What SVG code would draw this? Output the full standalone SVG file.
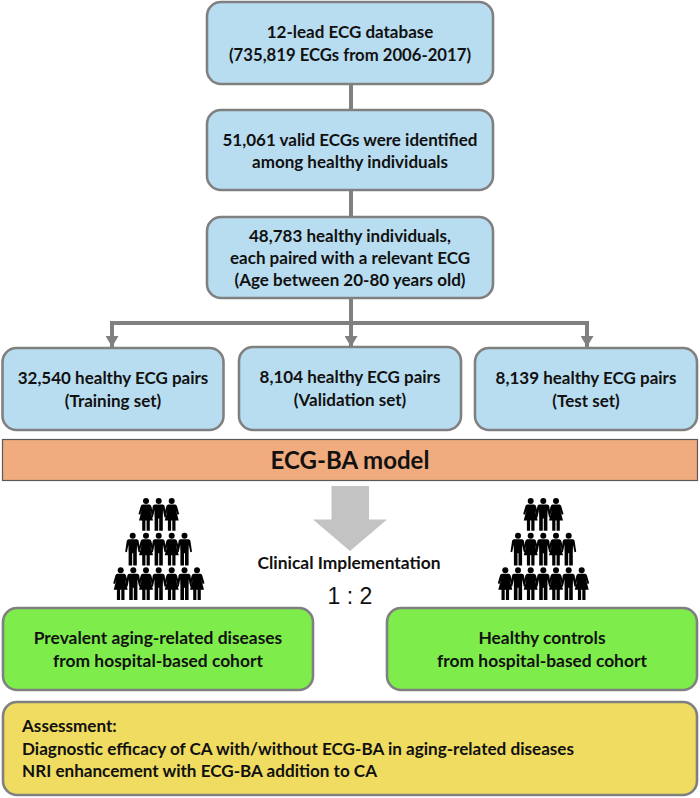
<svg xmlns="http://www.w3.org/2000/svg" xmlns:xlink="http://www.w3.org/1999/xlink" width="700" height="798" viewBox="0 0 700 798">
<style>
text{font-family:Lato,"Open Sans","Liberation Sans",sans-serif;font-weight:700;font-size:17px;fill:#111;text-anchor:middle}
.lg{font-size:17.4px}
.ye{font-size:17.1px}
.b{fill:#b9ddf0;stroke:#808080;stroke-width:2.6}
.g{fill:#7eed4c;stroke:#808080;stroke-width:2.6}
.y{fill:#f0dc60;stroke:#808080;stroke-width:2.6}
.c{fill:none;stroke:#808080;stroke-width:4}
.l{text-anchor:start}
</style>
<defs>
<marker id="ah" markerUnits="userSpaceOnUse" markerWidth="11" markerHeight="13" refX="11" refY="6.500" orient="auto"><path d="M0 0L11 6.500L0 13Z" fill="#808080"/></marker>
<g id="m"><circle cx="0" cy="0" r="3"/><path d="M-4 3.500H4Q5.500 3.500 5.900 5L7.500 16L5.800 16.500L4.300 9L4.100 16.500V29.700H0.500V17.500H-0.500V29.700H-4.100V16.500L-4.300 9L-5.800 16.500L-7.500 16L-5.900 5Q-5.500 3.500 -4 3.500Z"/></g>
<g id="w"><circle cx="0" cy="0" r="3"/><path d="M-3.400 3.500H3.400Q4.700 3.500 5.200 5L7.500 13L5.800 13.700L4.200 9L7 19.500H3.800V29.700H0.600V19.500H-0.600V29.700H-3.800V19.500H-7L-4.200 9L-5.800 13.700L-7.500 13L-5.200 5Q-4.700 3.500 -3.400 3.500Z"/></g>
</defs>
<g id="connectors">
<path class="c" d="M351 84V110M351 190V217M351 298V323"/>
<path class="c" d="M587 325V323H112V347" marker-end="url(#ah)"/>
<path class="c" d="M351 323V347" marker-end="url(#ah)"/>
<path class="c" d="M587 323V347" marker-end="url(#ah)"/>
</g>
<g id="n1"><rect class="b" x="207" y="2" width="286" height="82" rx="14"/><text x="350" y="38">12-lead ECG database</text><text x="350" y="61" style="font-size:16.7px">(735,819 ECGs from 2006-2017)</text></g>
<g id="n2"><rect class="b" x="207" y="110" width="286" height="80" rx="14"/><text x="350" y="146">51,061 valid ECGs were identified</text><text x="350" y="168">among healthy individuals</text></g>
<g id="n3"><rect class="b" x="207" y="217" width="286" height="81" rx="14"/><text x="350" y="242">48,783 healthy individuals,</text><text x="350" y="264">each paired with a relevant ECG</text><text x="350" y="286">(Age between 20-80 years old)</text></g>
<g id="n4"><rect class="b" x="2.500" y="348" width="221" height="82" rx="14"/><text x="113" y="384">32,540 healthy ECG pairs</text><text x="113" y="407">(Training set)</text></g>
<g id="n5"><rect class="b" x="239" y="347" width="222" height="83" rx="14"/><text x="350" y="383">8,104 healthy ECG pairs</text><text x="350" y="406">(Validation set)</text></g>
<g id="n6"><rect class="b" x="475" y="348" width="222" height="82" rx="14"/><text x="586" y="384">8,139 healthy ECG pairs</text><text x="586" y="407">(Test set)</text></g>
<g id="n7"><rect x="2.500" y="439.500" width="695" height="41" fill="#f0ab7e" stroke="#595959" stroke-width="1.200"/><text x="350" y="469" style="font-size:24px;font-weight:700">ECG-BA model</text></g>
<path id="bigarrow" d="M331.500 486H369V519.500H387L350 551L313 519.500H331.500Z" fill="#c3c3c3"/>
<g id="peopleL">
<use xlink:href="#w" x="146" y="501"/><use xlink:href="#m" x="158.700" y="501"/><use xlink:href="#w" x="171.700" y="501"/>
<use xlink:href="#m" x="132.700" y="535.700"/><use xlink:href="#w" x="146" y="535.700"/><use xlink:href="#m" x="158.700" y="535.700"/><use xlink:href="#w" x="171.700" y="535.700"/><use xlink:href="#m" x="184.500" y="535.700"/>
<use xlink:href="#w" x="120.700" y="570.300"/><use xlink:href="#m" x="133.300" y="570.300"/><use xlink:href="#w" x="146" y="570.300"/><use xlink:href="#m" x="158.700" y="570.300"/><use xlink:href="#w" x="171.700" y="570.300"/><use xlink:href="#m" x="184.500" y="570.300"/><use xlink:href="#w" x="197" y="570.300"/>
</g>
<g id="peopleR">
<use xlink:href="#w" x="530.700" y="501"/><use xlink:href="#m" x="543.300" y="501"/><use xlink:href="#w" x="556" y="501"/>
<use xlink:href="#m" x="518" y="535.700"/><use xlink:href="#w" x="530.700" y="535.700"/><use xlink:href="#m" x="543.300" y="535.700"/><use xlink:href="#w" x="556" y="535.700"/><use xlink:href="#m" x="568.700" y="535.700"/>
<use xlink:href="#w" x="505.300" y="570.300"/><use xlink:href="#m" x="518" y="570.300"/><use xlink:href="#w" x="530.700" y="570.300"/><use xlink:href="#m" x="543.300" y="570.300"/><use xlink:href="#w" x="556" y="570.300"/><use xlink:href="#m" x="568.700" y="570.300"/><use xlink:href="#w" x="581.700" y="570.300"/>
</g>
<text class="lg" x="349" y="569">Clinical Implementation</text>
<text x="350" y="604" style="font-size:23px;font-weight:400;font-family:'Liberation Sans',sans-serif">1 : 2</text>
<g id="n8"><rect class="g" x="3" y="608" width="310" height="82" rx="14"/><text class="lg" x="158" y="644">Prevalent aging-related diseases</text><text class="lg" x="158" y="667">from hospital-based cohort</text></g>
<g id="n9"><rect class="g" x="387" y="608" width="310" height="82" rx="14"/><text class="lg" x="542" y="644">Healthy controls</text><text class="lg" x="542" y="667">from hospital-based cohort</text></g>
<g id="n10"><rect class="y" x="3" y="702" width="694" height="93" rx="14"/><text class="l ye" x="22" y="732">Assessment:</text><text class="l ye" x="22" y="755">Diagnostic efficacy of CA with/without ECG-BA in aging-related diseases</text><text class="l ye" x="22" y="777">NRI enhancement with ECG-BA addition to CA</text></g>
</svg>
